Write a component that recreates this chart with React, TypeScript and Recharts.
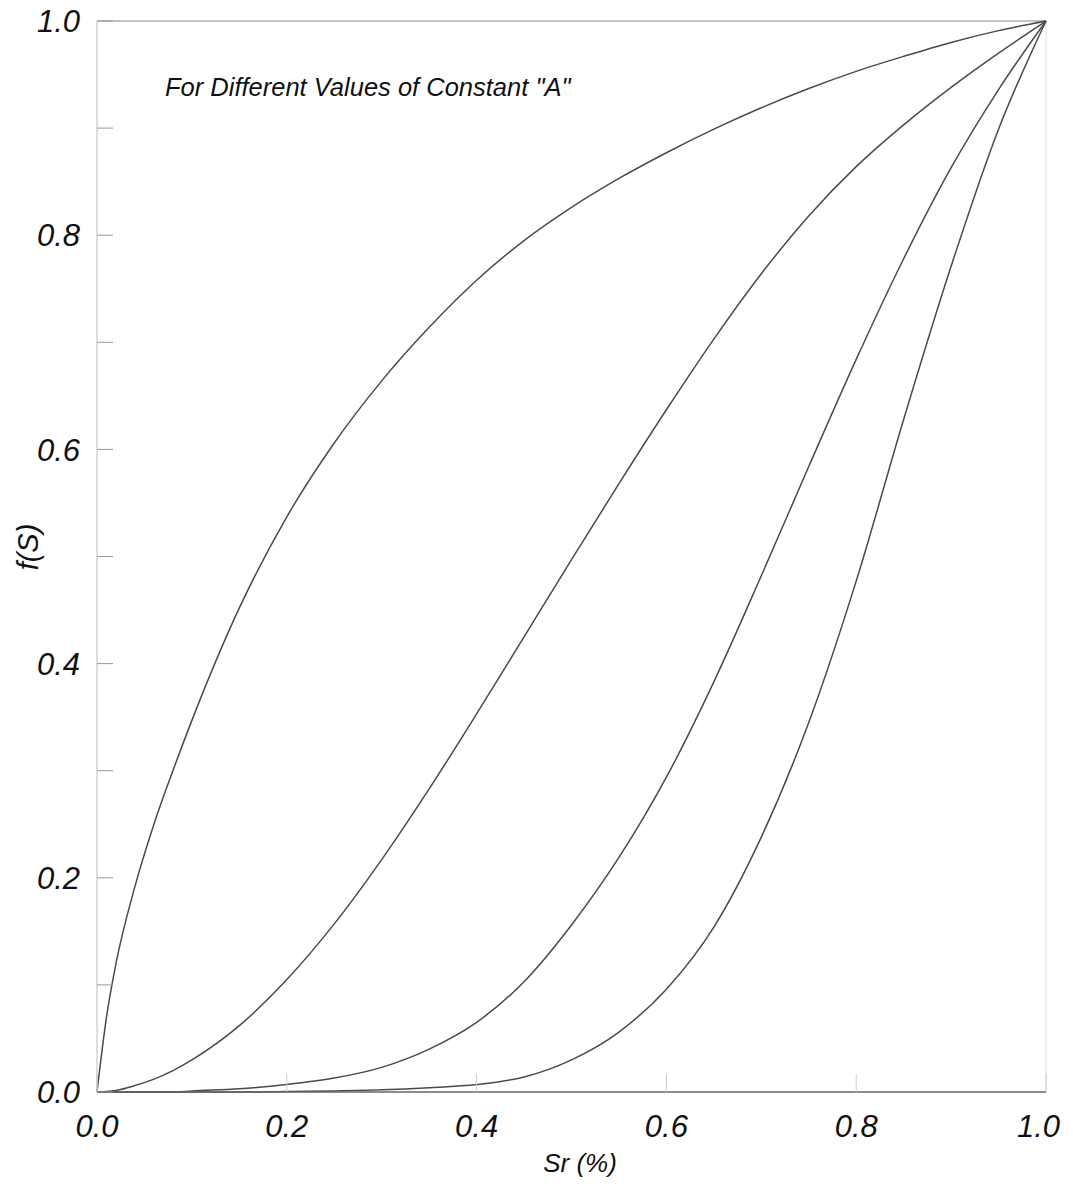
import React from 'react'
import {
  LineChart,
  Line,
  XAxis,
  YAxis,
  ReferenceLine,
  Label
} from 'recharts'

// saturation values (x) shared by all curves
const saturation = [0, 0.01, 0.02, 0.04, 0.06, 0.08, 0.1, 0.15, 0.2, 0.25, 0.3, 0.35, 0.4, 0.45, 0.5, 0.55, 0.6, 0.65, 0.7, 0.75, 0.8, 0.85, 0.9, 0.95, 1.0]

// f(S), one list per value of "A"
const curveA1 = [0, 0.07, 0.12, 0.192, 0.25, 0.30, 0.347, 0.452, 0.537, 0.606, 0.664, 0.714, 0.758, 0.795, 0.826, 0.853, 0.877, 0.899, 0.919, 0.937, 0.953, 0.967, 0.98, 0.991, 1.0]
const curveA2 = [0, 0.0005, 0.0015, 0.006, 0.012, 0.02, 0.03, 0.062, 0.105, 0.157, 0.217, 0.283, 0.353, 0.425, 0.497, 0.568, 0.637, 0.703, 0.764, 0.818, 0.864, 0.903, 0.938, 0.97, 1.0]
const curveA3 = [0, 0, 0, 0, 0, 0, 0.001, 0.003, 0.007, 0.013, 0.023, 0.04, 0.065, 0.103, 0.156, 0.219, 0.294, 0.383, 0.482, 0.584, 0.684, 0.778, 0.863, 0.936, 1.0]
const curveA4 = [0, 0, 0, 0, 0, 0, 0, 0, 0.0005, 0.001, 0.002, 0.004, 0.007, 0.014, 0.03, 0.056, 0.096, 0.154, 0.238, 0.345, 0.477, 0.628, 0.771, 0.899, 1.0]

const yTicks = [0, 0.1, 0.2, 0.3, 0.4, 0.5, 0.6, 0.7, 0.8, 0.9, 1.0]
const xTicks = [0, 0.2, 0.4, 0.6, 0.8, 1.0]

const data = saturation.map((s, i) => ({
  s,
  a1: curveA1[i],
  a2: curveA2[i],
  a3: curveA3[i],
  a4: curveA4[i]
}))

const FONT = '"Liberation Sans", Arial, sans-serif'
const lineColor = '#4a4a4a'

const isMajor = (v: number) => Math.round(v * 10) % 2 === 0

const YTick = ({ x, y, payload }: any) => {
  const v = payload.value
  return (
    <g>
      <line x1={x} x2={x + 16} y1={y} y2={y} stroke="#999" strokeWidth={1} />
      {isMajor(v) && (
        <text
          x={x - 17}
          y={y}
          dy="0.36em"
          textAnchor="end"
          fontSize={31}
          fontStyle="italic"
          fontFamily={FONT}
          fill="#111"
        >
          {v.toFixed(1)}
        </text>
      )}
    </g>
  )
}

const XTick = ({ x, y, payload }: any) => {
  // the last label sits against the page edge, so anchor it by its end
  const last = payload.value >= 1
  return (
    <g>
      <line x1={x} x2={x} y1={y} y2={y - 18} stroke="#ccc" strokeWidth={1} />
      <text
        x={last ? x + 14 : x}
        y={y + 23}
        dy="0.71em"
        textAnchor={last ? 'end' : 'middle'}
        fontSize={31}
        fontStyle="italic"
        fontFamily={FONT}
        fill="#111"
      >
        {payload.value.toFixed(1)}
      </text>
    </g>
  )
}

export default function App() {
  return (
    <div style={{ position: 'relative', width: 1057, height: 1172, background: '#fff' }}>
      <style>{`svg { overflow: visible; }`}</style>
      <LineChart
        width={1057}
        height={1172}
        data={data}
        margin={{ top: 13, right: 19, bottom: 0, left: 0 }}
      >
        <XAxis
          dataKey="s"
          type="number"
          domain={[0, 1]}
          ticks={xTicks}
          tick={<XTick />}
          tickSize={0}
          tickMargin={0}
          tickLine={false}
          height={88}
          axisLine={{ stroke: '#666', strokeWidth: 1.5 }}
        >
          <Label
            content={() => (
              <text
                x={572}
                y={1164}
                textAnchor="middle"
                fontSize={26}
                fontStyle="italic"
                fontFamily={FONT}
                fill="#111"
              >
                Sr (%)
              </text>
            )}
          />
        </XAxis>
        <YAxis
          type="number"
          domain={[0, 1]}
          ticks={yTicks}
          tick={<YTick />}
          tickSize={0}
          tickMargin={0}
          tickLine={false}
          width={89}
          interval={0}
          axisLine={{ stroke: '#bbb', strokeWidth: 1 }}
        >
          <Label
            content={() => (
              <text
                x={20}
                y={539}
                transform="rotate(-90 20 539)"
                textAnchor="middle"
                dy="0.36em"
                fontSize={29}
                fontStyle="italic"
                fontFamily={FONT}
                fill="#111"
              >
                f(S)
              </text>
            )}
          />
        </YAxis>
        <ReferenceLine y={1} stroke="#888" strokeWidth={1.2} />
        <ReferenceLine x={1} stroke="#ddd" strokeWidth={1} />
        <Line type="monotone" dataKey="a1" stroke={lineColor} strokeWidth={1.5} dot={false} isAnimationActive={false} />
        <Line type="monotone" dataKey="a2" stroke={lineColor} strokeWidth={1.5} dot={false} isAnimationActive={false} />
        <Line type="monotone" dataKey="a3" stroke={lineColor} strokeWidth={1.5} dot={false} isAnimationActive={false} />
        <Line type="monotone" dataKey="a4" stroke={lineColor} strokeWidth={1.5} dot={false} isAnimationActive={false} />
      </LineChart>
      <div
        style={{
          position: 'absolute',
          left: 157,
          top: 64,
          fontFamily: FONT,
          fontStyle: 'italic',
          fontSize: 25.5,
          color: '#111',
          whiteSpace: 'nowrap',
          lineHeight: '30px'
        }}
      >
        For Different Values of Constant "A"
      </div>
    </div>
  )
}
